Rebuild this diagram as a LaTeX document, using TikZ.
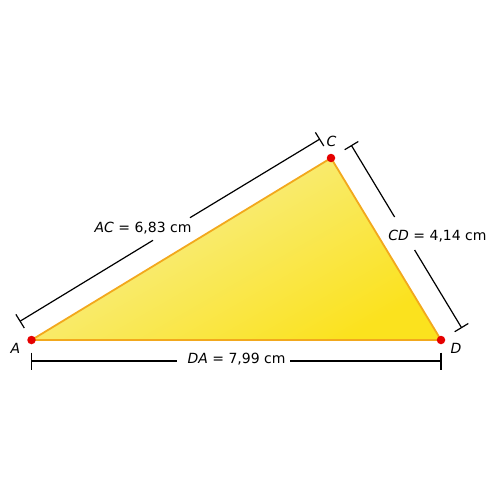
\documentclass[tikz,border=0pt]{standalone}
\usepackage{fontspec}
\setmainfont{DejaVu Sans}
\usetikzlibrary{calc}
\begin{document}
\begin{tikzpicture}[x=1pt,y=-1pt,
  dimline/.style={black,line width=1.2pt},
  lbl/.style={font=\fontsize{14}{16}\selectfont,inner sep=1pt},
  vdot/.style={circle,fill=red!90!black,inner sep=0pt,minimum size=8.5pt}]
\useasboundingbox (0,0) rectangle (500,500);
\definecolor{lightY}{HTML}{F7F09C}
\definecolor{midY}{HTML}{F8EE84}
\definecolor{darkY}{HTML}{FBE21E}
\definecolor{edgeO}{HTML}{F2A81D}
\coordinate (A) at (31.5,340);
\coordinate (C) at (331,158);
\coordinate (D) at (441,340);
% triangle
\shade[top color=lightY,middle color=midY,bottom color=darkY,shading angle=30] (A) -- (C) -- (D) -- cycle;
\draw[edgeO,line width=1.8pt,line join=round] (A) -- (C) -- (D) -- cycle;
% AC dimension
\coordinate (A1) at (20.1,321.2);
\coordinate (C1) at (319.6,139.2);
\draw[dimline] (A1) -- (153,240.3);
\draw[dimline] (190,217.7) -- (C1);
\draw[dimline] ($(A1)+(4.2,6.8)$) -- ($(A1)+(-4.2,-6.8)$);
\draw[dimline] ($(C1)+(4.2,6.8)$) -- ($(C1)+(-4.2,-6.8)$);
% CD dimension
\coordinate (C2) at (351.5,145.6);
\coordinate (D2) at (461.5,327.6);
\draw[dimline] (C2) -- (394.6,217);
\draw[dimline] (414.6,250) -- (D2);
\draw[dimline] ($(C2)+(6.8,-4.1)$) -- ($(C2)+(-6.8,4.1)$);
\draw[dimline] ($(D2)+(6.8,-4.1)$) -- ($(D2)+(-6.8,4.1)$);
% DA dimension
\coordinate (A3) at (31.5,361);
\coordinate (D3) at (441,361);
\draw[dimline] (A3) -- (177,361);
\draw[dimline] (290,361) -- (D3);
\draw[dimline] (31.5,352.5) -- (31.5,369.5);
\draw[dimline] (441,352.5) -- (441,369.5);
% labels
\node[lbl] (lAC) at (143,228) {\textit{AC} = 6,83 cm};
\node[lbl] (lCD) at (437.5,236) {\textit{CD} = 4,14 cm};
\node[lbl] (lDA) at (236.5,359.5) {\textit{DA} = 7,99 cm};
\node[lbl] (nA) at (15.5,348.5) {\textit{A}};
\node[lbl] (nC) at (331.5,141) {\textit{C}};
\node[lbl] (nD) at (456,348.5) {\textit{D}};
% vertices
\node[vdot] (pA) at (A) {};
\node[vdot] (pC) at (C) {};
\node[vdot] (pD) at (D) {};
\end{tikzpicture}
\end{document}
